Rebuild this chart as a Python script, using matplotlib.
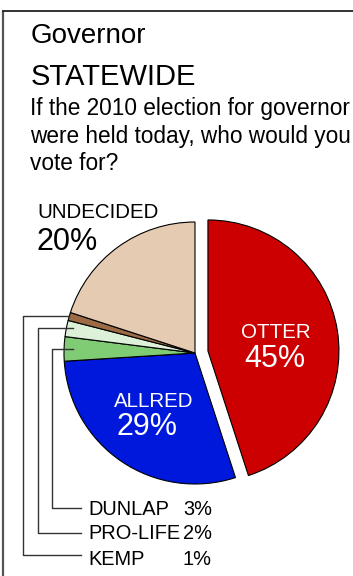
import matplotlib.pyplot as plt
import numpy as np

plt.rcParams['font.family'] = ['Liberation Sans', 'DejaVu Sans']

# data
names = ["OTTER", "ALLRED", "DUNLAP", "PRO-LIFE", "KEMP", "UNDECIDED"]
shares = [45, 29, 3, 2, 1, 20]
colors = ["#cc0000", "#0018dc", "#7fcc74", "#ddf0d8", "#9c6b45", "#e5cbb2"]
explode = [0.1, 0, 0, 0, 0, 0]
question = ["If the 2010 election for governor", "were held today, who would you", "vote for?"]

W, H = 353, 576
fig = plt.figure(figsize=(W / 100, H / 100), dpi=100)
ax = fig.add_axes([0, 0, 1, 1])


def Y(y):
    # pixel row from top -> data y
    return H - y


# pie
cx, cy, R = 195, Y(353), 131
wedges, _ = ax.pie(shares, colors=colors, explode=[e * R for e in explode], startangle=90,
                   counterclock=False, center=(cx, cy), radius=R, frame=True,
                   wedgeprops=dict(edgecolor="black", linewidth=0.8))
ax.set_xlim(0, W)
ax.set_ylim(0, H)
ax.set_aspect("equal")
ax.axis("off")

# frame
ax.plot([2.5, 2.5], [0, Y(10.5)], color="#555555", lw=1.6, solid_capstyle="butt")
ax.plot([2, W], [Y(10.5), Y(10.5)], color="#222222", lw=1.3, solid_capstyle="butt")

# titles
ax.text(31, Y(43), "Governor", fontsize=20, va="baseline", ha="left")
ax.text(31, Y(85), "STATEWIDE", fontsize=21, va="baseline", ha="left")
for i, line in enumerate(question):
    ax.text(30, Y(115 + 27.5 * i), line, fontsize=16.3, va="baseline", ha="left")

# labels in big slices
ax.text(276, Y(338), "OTTER", color="white", fontsize=14.8, ha="center", va="baseline")
ax.text(275, Y(367), "45%", color="white", fontsize=22, ha="center", va="baseline")
ax.text(154, Y(407), "ALLRED", color="white", fontsize=14.8, ha="center", va="baseline")
ax.text(147, Y(435), "29%", color="white", fontsize=22, ha="center", va="baseline")
ax.text(37, Y(218), "UNDECIDED", color="black", fontsize=14.8, ha="left", va="baseline")
ax.text(36, Y(250), "20%", color="black", fontsize=22, ha="left", va="baseline")

# leader lines for small slices
bends = [52, 38, 23]
line_y = [508, 533, 555]
text_y = [515, 539, 565]
starts = [(73, 0.93), (73, 0.95), (65, 1.0)]
for i, k in enumerate([2, 3, 4]):
    w = wedges[k]
    mid = np.deg2rad((w.theta1 + w.theta2) / 2)
    y0 = cy + R * np.sin(mid)
    x0 = max(starts[i][0], cx + R * starts[i][1] * np.cos(mid))
    ax.plot([x0, bends[i], bends[i], 81], [y0, y0, Y(line_y[i]), Y(line_y[i])],
            color="#333333", lw=1.0)
    ax.text(88, Y(text_y[i]), names[k], fontsize=14.4, ha="left", va="baseline")
    ax.text(212, Y(text_y[i]), f"{shares[k]}%", fontsize=14.4, ha="right", va="baseline")

fig.savefig("out.png", dpi=100)
